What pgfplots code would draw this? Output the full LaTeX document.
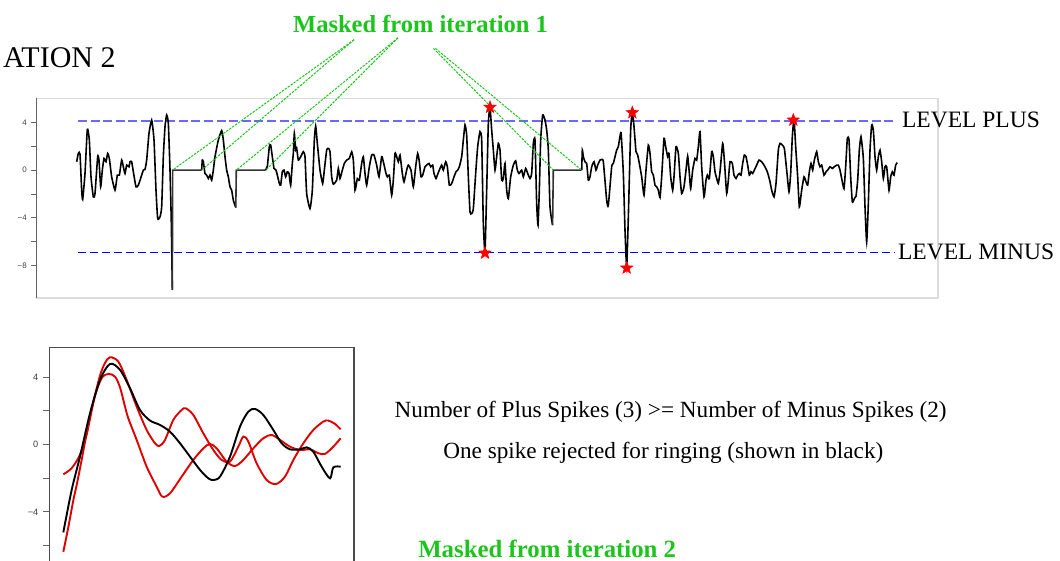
\documentclass[border=0pt]{standalone}
\usepackage{fontspec}
\setmainfont{Liberation Serif}
\newfontfamily\tickfont{Liberation Sans}
\usepackage{pgfplots}
\pgfplotsset{compat=1.18}
\definecolor{mgreen}{RGB}{30,196,30}
\definecolor{lblue}{RGB}{105,105,255}
\definecolor{fgray}{RGB}{220,220,220}
\definecolor{sgray}{RGB}{100,100,100}
\definecolor{cred}{RGB}{222,0,0}
\pgfdeclareplotmark{fstar}{%
  \pgfpathmoveto{\pgfpointpolar{90}{\pgfplotmarksize}}%
  \pgfpathlineto{\pgfpointpolar{126}{0.42\pgfplotmarksize}}%
  \pgfpathlineto{\pgfpointpolar{162}{\pgfplotmarksize}}%
  \pgfpathlineto{\pgfpointpolar{198}{0.42\pgfplotmarksize}}%
  \pgfpathlineto{\pgfpointpolar{234}{\pgfplotmarksize}}%
  \pgfpathlineto{\pgfpointpolar{270}{0.42\pgfplotmarksize}}%
  \pgfpathlineto{\pgfpointpolar{306}{\pgfplotmarksize}}%
  \pgfpathlineto{\pgfpointpolar{342}{0.42\pgfplotmarksize}}%
  \pgfpathlineto{\pgfpointpolar{18}{\pgfplotmarksize}}%
  \pgfpathlineto{\pgfpointpolar{54}{0.42\pgfplotmarksize}}%
  \pgfpathclose
  \pgfusepathqfillstroke}
\pgfplotsset{sig/.style={black, line width=0.8pt, smooth, tension=0.3},
             flat/.style={black!80, line width=0.8pt, line join=miter}}
\begin{document}
\begin{tikzpicture}
% ---------------- top chart ----------------
\begin{axis}[
  at={(18.35pt,-149pt)}, anchor=south west,
  width=450.65pt, height=99.85pt, scale only axis,
  xmin=36.7, xmax=938, ymin=-10.70, ymax=6.01,
  axis line style={draw=none},
  xtick=\empty,
  ytick={-8,-6,-4,-2,0,2,4},
  yticklabels={−8,,−4,,0,,4},
  ytick pos=left,
  tick align=outside,
  major tick length=2.8pt,
  tick style={sgray, line width=0.5pt},
  yticklabel style={font=\tickfont\fontsize{4pt}{4.5pt}\selectfont, text=black!75, inner sep=0pt, xshift=-2pt},
  clip=false,
]
\draw[fgray, line width=0.6pt] (rel axis cs:0,0) rectangle (rel axis cs:1,1);
\draw[sgray, line width=0.6pt] (rel axis cs:0,0) -- (rel axis cs:0,1);
\addplot[lblue, line width=1pt, dash pattern=on 4.5pt off 1.8pt] coordinates {(78,4.14) (895,4.14)};
\addplot[blue, line width=0.6pt, dash pattern=on 4pt off 2pt] coordinates {(78,-6.91) (895,-6.91)};
% signal, segment 1
\addplot[sig] table {
76.67 0.70
78.33 1.40
80.00 1.34
81.67 -1.68
82.67 -2.46
85.00 -0.28
87.33 3.41
89.33 2.52
91.00 -0.56
93.33 -2.24
95.00 -1.96
97.67 1.12
99.00 0.84
100.67 -1.40
102.33 0
104.00 0.98
106.00 0.70
107.67 1.40
109.33 0.98
111.67 -0.56
115.00 -1.68
117.33 -0.42
119.33 -0.42
121.67 0.84
123.33 0.28
125.00 -0.28
126.67 0.42
129.00 0.28
130.00 0.70
131.67 0.70
133.33 -0.14
136.00 -1.40
138.33 -1.26
141.67 -0.42
143.33 0
145.00 0.06
146.67 0.84
149.00 3.08
151.67 4.19
154.00 2.52
156.00 -1.68
157.67 -4.05
160.00 -3.91
161.67 -3.08
163.33 1.12
165.00 3.64
166.67 4.61
168.33 3.91
170.00 0
171.33 -4.47
172.33 -10.01
};
\addplot[flat] table {
172.33 -10.01
172.70 0
201.70 0
};
% segment 2
\addplot[sig] table {
201.70 0
202.30 0.84
203.33 0.70
205.00 -0.28
206.67 -0.42
208.33 -0.70
210.00 -0.42
211.67 -0.84
213.33 0
215.00 1.12
218.33 2.52
221.67 3.30
223.33 2.52
225.00 1.12
226.67 0
228.33 -0.56
230.00 -1.40
231.67 -1.68
233.33 -2.52
235.80 -3.13
};
\addplot[flat] table {
235.80 -3.13
236.30 0
265.70 0
};
% segment 3
\addplot[sig] table {
265.70 0
266.67 0.22
267.33 0.28
269.33 1.96
270.67 2.10
272.33 1.12
274.00 0.14
276.00 0
277.33 -0.42
279.33 -1.12
280.67 -1.26
282.33 -0.14
284.00 0
285.67 -0.56
287.33 -0.14
289.00 -0.28
290.67 -1.26
292.33 0.56
293.33 1.40
294.33 3.08
295.67 1.68
296.67 1.82
298.33 0.84
300.67 1.12
303.33 1.54
305.00 1.12
306.67 -1.96
310.00 -3.22
312.33 -1.68
314.33 2.52
315.67 3.69
317.33 2.24
320.00 0
322.67 -1.12
324.33 0
326.67 1.68
328.33 1.82
330.00 1.54
331.67 -0.56
333.33 -1.17
336.67 -0.84
338.33 0.14
340.00 -0.70
342.33 0
344.33 0.56
346.67 0.84
349.33 0.98
351.67 1.54
353.33 0.84
355.00 -1.68
357.33 -0.70
359.33 -0.84
361.67 0.56
363.33 1.12
365.00 -0.28
366.67 -1.26
369.33 0.28
371.67 1.26
374.00 1.26
376.67 0.42
379.00 -0.56
381.67 1.12
383.33 0.70
386.00 -0.28
387.33 -0.56
389.33 -0.42
391.67 -2.10
393.33 -0.84
395.00 1.40
396.67 1.12
398.33 0.70
400.00 1.26
402.33 -0.28
404.00 -0.98
406.67 0
408.33 0.42
411.00 0
413.33 -1.40
415.67 0.28
417.67 1.40
419.33 0.70
421.00 -0.56
422.67 -0.42
425.00 0.28
426.67 0.42
429.00 0.56
430.67 0.28
432.67 0.42
434.00 -0.28
436.00 -0.70
437.33 -0.42
440.00 0.14
441.67 0.42
443.33 0
445.67 0.70
447.33 0.28
449.33 -1.26
451.67 -1.12
454.00 -0.56
456.00 -0.14
457.67 0
459.33 0.28
461.67 1.12
463.33 2.52
465.00 3.78
466.67 2.94
468.33 -0.56
470.00 -3.50
471.67 -3.64
473.33 -3.22
475.67 -0.28
477.67 1.96
480.00 3.22
481.67 2.52
483.33 -4.47
485.00 -6.85
486.67 -1.68
488.33 3.91
490.00 5.26
491.67 3.36
493.33 1.68
495.00 0
496.67 1.12
498.33 2.24
500.00 1.68
501.67 -0.84
503.33 -0.70
505.00 0.56
506.67 -1.68
508.33 -2.38
510.67 -0.56
513.33 0.42
515.67 0.78
517.33 0
519.00 -0.28
521.67 0
523.33 -0.56
525.67 0.14
527.67 -0.28
530.00 -0.70
531.67 -0.28
533.33 2.24
535.00 2.52
536.67 -2.80
538.00 -4.61
539.33 -1.68
540.67 2.52
542.67 4.61
545.00 4.19
546.67 3.36
548.33 1.68
550.00 -3.08
552.60 -4.61
};
\addplot[flat] table {
552.60 -4.61
553.30 0
581.70 0
};
% segment 4
\addplot[sig] table {
581.70 0
582.33 1.68
583.33 1.12
585.00 0.70
586.67 0.56
588.33 -0.84
590.00 -0.56
591.67 0.28
594.00 0.70
596.00 0
597.67 0.42
600.00 0.84
601.67 0.89
603.33 0.70
606.67 -2.52
608.33 -2.94
611.67 0.28
613.33 0.56
616.67 1.68
618.33 1.96
621.00 3.13
623.33 -0.28
625.00 -5.03
626.67 -8.11
628.33 -3.91
630.67 3.36
632.33 4.81
634.00 3.64
636.00 1.54
637.67 1.26
639.33 0.56
641.67 -0.56
644.00 -2.10
646.00 0
648.33 2.10
650.00 1.40
651.67 -0.14
653.33 -0.42
655.00 -1.26
656.67 -1.40
658.33 -1.68
660.00 -2.29
661.67 -0.56
664.00 2.66
665.67 1.96
667.67 1.12
669.00 1.40
670.67 -0.56
672.67 -1.68
674.00 -0.56
676.00 1.96
678.33 1.40
680.00 -0.56
681.67 -1.96
684.00 -1.40
686.00 0
687.67 1.17
689.33 -0.28
690.67 -1.54
692.67 0
695.00 0.98
696.67 0.84
698.33 1.96
700.00 3.22
701.67 0.28
704.00 -2.24
706.00 -0.84
707.33 -0.42
709.33 -0.70
711.67 1.54
713.33 1.12
715.00 -0.14
716.67 -0.70
718.33 -1.12
720.00 -0.14
722.67 2.24
724.33 0.84
726.67 -1.96
728.33 -0.84
730.00 0.70
732.33 0.56
734.00 -0.42
736.00 -0.70
737.67 -0.42
739.33 -0.28
741.00 -0.42
742.67 0.56
744.33 1.26
746.00 1.12
747.67 0.42
749.33 -0.42
751.00 -0.14
752.67 -0.28
754.33 0
756.67 0.42
759.00 0.84
761.67 0.70
764.00 0.42
766.67 0
768.33 -0.42
770.00 -0.98
771.67 -1.68
774.00 -2.24
776.00 -1.12
778.33 1.68
780.00 2.24
782.33 2.10
784.33 1.82
786.67 0
789.00 -1.82
790.67 -0.28
792.33 2.80
794.00 4.25
795.67 1.96
797.67 -0.56
799.33 -3.08
801.67 -1.68
804.00 -0.56
806.00 -0.98
807.67 -1.26
809.33 -0.14
811.00 0.56
812.67 0
814.33 0.84
816.67 1.54
818.33 0.70
820.00 0.28
821.67 0.42
824.00 -0.42
826.00 -0.14
827.67 0
830.00 0.28
832.33 0.14
834.33 0.28
836.67 0.42
838.33 0.42
840.00 0
841.67 -0.70
844.00 -1.54
845.67 0.28
847.33 2.66
849.00 2.52
850.67 -0.56
852.33 -2.66
854.33 -2.38
856.00 -2.18
857.67 -0.84
859.33 1.68
861.00 2.80
863.33 0.98
865.00 -3.08
866.67 -6.01
868.33 -2.80
870.00 1.68
871.67 3.78
873.33 3.36
875.00 1.12
876.67 0
878.33 1.12
880.00 1.68
881.67 0.70
883.33 -0.70
885.00 0.28
886.67 0.28
889.00 -1.68
890.67 -0.56
892.33 -0.14
894.00 -0.42
895.67 0.42
897.33 0.62
};
% masked-from-iteration-1 connectors
\addplot[mgreen, line width=0.5pt, dash pattern=on 1.2pt off 0.6pt] coordinates {(354,10.91) (172.5,0)};
\addplot[mgreen, line width=0.5pt, dash pattern=on 1.2pt off 0.6pt] coordinates {(354,10.91) (201.7,0)};
\addplot[mgreen, line width=0.5pt, dash pattern=on 1.2pt off 0.6pt] coordinates {(398,11.07) (236.3,0)};
\addplot[mgreen, line width=0.5pt, dash pattern=on 1.2pt off 0.6pt] coordinates {(398,11.07) (265.7,0)};
\addplot[mgreen, line width=0.5pt, dash pattern=on 1.2pt off 0.6pt] coordinates {(433.5,10.18) (553.3,0)};
\addplot[mgreen, line width=0.5pt, dash pattern=on 1.2pt off 0.6pt] coordinates {(435.5,10.18) (581.7,0)};
% detected spikes
\addplot[only marks, mark=fstar, mark size=3.2pt, mark options={fill=red, draw=red, line width=0.3pt}] coordinates {
(490,5.26) (485,-6.94) (632.3,4.81) (626.7,-8.19) (793.3,4.19)};
\end{axis}
% ---------------- bottom chart ----------------
\begin{axis}[
  at={(24.65pt,-280.5pt)}, anchor=south west,
  width=152.35pt, height=106.85pt, scale only axis,
  xmin=49.3, xmax=354, ymin=-6.91, ymax=5.78,
  axis line style={draw=none},
  xtick=\empty,
  ytick={-6,-4,-2,0,2,4},
  yticklabels={,−4,,0,,4},
  ytick pos=left,
  tick align=outside,
  major tick length=3pt,
  tick style={sgray, line width=0.5pt},
  yticklabel style={font=\tickfont\fontsize{4.6pt}{5pt}\selectfont, text=black!75, inner sep=0pt, xshift=-2.3pt},
  clip=false,
]
\draw[black!70, line width=0.7pt] (rel axis cs:0,0) -- (rel axis cs:0,1) -- (rel axis cs:1,1) -- (rel axis cs:1,0);
\addplot[cred, line width=0.95pt, smooth] table {
63.33 -1.76
71.67 -1.40
80.00 -0.60
86.67 0.60
93.33 2.50
100.00 4.10
105.00 4.85
110.00 5.19
118.33 4.93
126.67 3.84
136.67 2.26
146.67 0.87
155.00 0.08
159.33 -0.08
165.00 0.28
173.33 1.47
181.67 2.06
185.67 2.16
193.33 1.76
203.33 0.67
213.33 -0.32
221.67 -0.91
230.00 -1.01
238.33 -0.12
243.33 0.48
248.33 0.18
256.67 -1.11
266.67 -2.10
276.00 -2.34
285.00 -1.90
293.33 -0.91
303.33 0.08
313.33 0.87
323.33 1.37
328.33 1.43
335.00 1.23
340.67 0.91
};
\addplot[cred, line width=0.95pt, smooth] table {
63.33 -6.36
68.33 -4.90
73.33 -3.30
76.67 -2.40
81.67 -0.90
88.33 1.20
95.00 2.90
101.67 3.95
108.33 4.20
115.00 4.04
120.00 3.40
125.00 2.26
128.33 1.56
136.67 0.28
146.67 -1.31
156.67 -2.50
162.33 -3.09
170.00 -2.89
181.67 -1.90
193.33 -0.91
203.33 -0.22
210.00 0.04
216.67 -0.22
226.67 -1.01
235.00 -1.27
243.33 -0.91
253.33 -0.22
263.33 0.38
271.67 0.57
280.00 0.28
290.00 -0.12
300.00 -0.32
310.00 -0.28
318.33 -0.51
325.00 -0.55
333.33 -0.12
340.67 0.38
};
\addplot[black, line width=0.95pt, smooth] table {
63.33 -5.21
71.67 -2.69
80.00 -0.71
90.00 1.86
100.00 3.84
110.00 4.79
120.00 4.44
130.00 3.35
140.00 2.06
150.00 1.43
160.00 1.17
170.00 0.77
180.00 0.08
190.00 -0.71
200.00 -1.50
208.33 -2.00
213.33 -2.10
220.00 -1.90
230.00 -0.71
240.00 1.07
248.33 1.96
255.00 2.12
263.33 1.76
273.33 0.87
281.67 0.08
290.00 -0.28
300.00 -0.28
306.67 -0.16
313.33 -0.42
321.67 -1.31
330.00 -2.00
333.33 -1.35
340.67 -1.31
};
\end{axis}
% ---------------- texts ----------------
\begin{scope}[x=0.5pt, y=-0.5pt]
\node[anchor=base east, inner sep=0pt, font=\fontsize{15pt}{18pt}\selectfont] at (116,67.9) {ATION 2};
\node[anchor=base, inner sep=0pt, text=mgreen, font=\bfseries\fontsize{12.25pt}{14pt}\selectfont] at (420.5,32.3) {Masked from iteration 1};
\node[anchor=base west, inner sep=0pt, font=\fontsize{11.75pt}{14pt}\selectfont] at (901.7,127.7) {LEVEL PLUS};
\node[anchor=base west, inner sep=0pt, font=\fontsize{11.75pt}{14pt}\selectfont] at (897.7,259.4) {LEVEL MINUS};
\node[anchor=base west, inner sep=0pt, font=\fontsize{11.6pt}{14pt}\selectfont] at (394.3,417.5) {Number of Plus Spikes (3) >= Number of Minus Spikes (2)};
\node[anchor=base west, inner sep=0pt, font=\fontsize{11.6pt}{14pt}\selectfont] at (442.9,458.5) {One spike rejected for ringing (shown in black)};
\node[anchor=base west, inner sep=0pt, text=mgreen, font=\bfseries\fontsize{12.4pt}{14pt}\selectfont] at (417.9,557.5) {Masked from iteration 2};
\end{scope}
\pgfresetboundingbox
\path[use as bounding box] (0,0) rectangle (530pt,-280.5pt);
\end{tikzpicture}
\end{document}
